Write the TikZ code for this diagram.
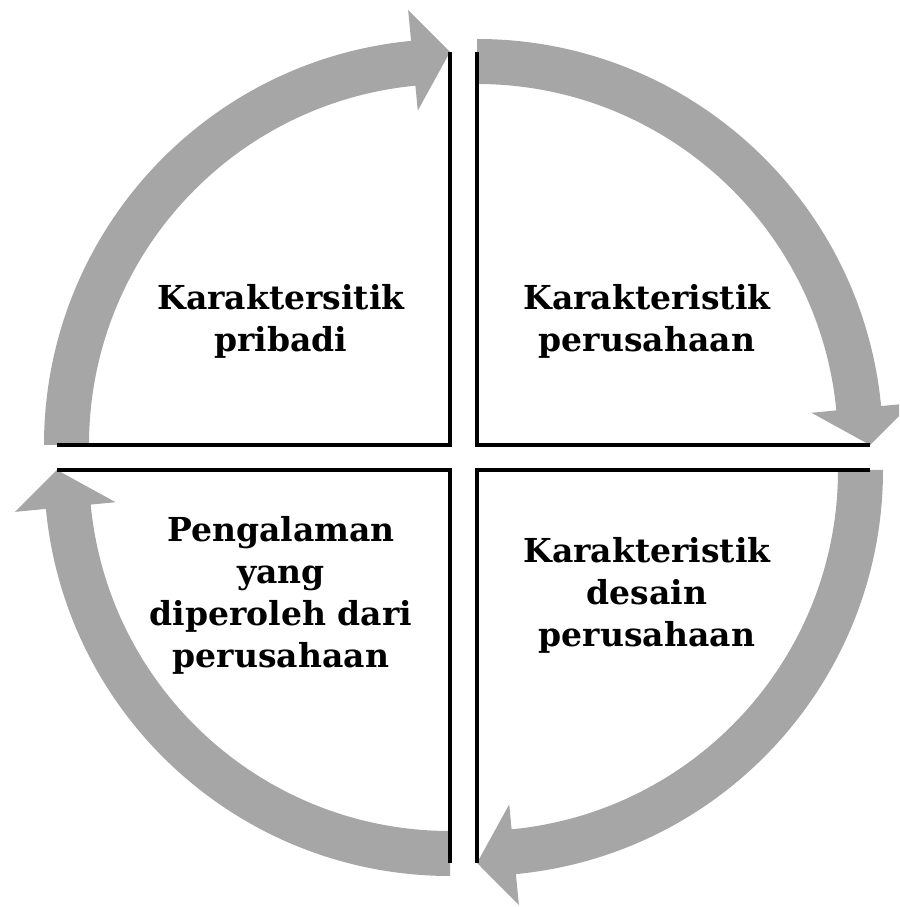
\documentclass[tikz,border=0pt]{standalone}
\usepackage{fontspec}
\setmainfont{DejaVu Serif}
\begin{document}
\begin{tikzpicture}[x=1pt,y=1pt]
\definecolor{bandgray}{RGB}{166,166,166}
\tikzset{
  band/.style={fill=bandgray,draw=none},
  edgeline/.style={line width=3.4pt,black},
  lbl/.style={font=\fontsize{33}{42}\selectfont\bfseries,align=center,text=black,inner sep=0pt}
}
\useasboundingbox (0,0) rectangle (899,907);
\clip (0,0) rectangle (899,907);
% quadrant corners
\coordinate (cTL) at (450,462);
\coordinate (cTR) at (477,462);
\coordinate (cBR) at (477,437);
\coordinate (cBL) at (450,437);
% gray curved arrows
\foreach \cx/\cy/\a in {450/462/180, 477/462/90, 477/437/0, 450/437/-90}{
  \pgfmathsetmacro\e{\a-90+5.5}
  \pgfmathsetmacro\t{\a-90}
  \begin{scope}[shift={(\cx,\cy)}]
    \fill[band] (\a:406pt) arc[start angle=\a, end angle=\e, radius=406pt]
      -- (\e:437pt) -- (\t:393pt) -- (\e:336pt) -- (\e:361pt)
      arc[start angle=\e, end angle=\a, radius=361pt] -- cycle;
  \end{scope}
}
% quadrant edges
\coordinate (tlU) at (450,855);
\coordinate (tlL) at (57,462);
\coordinate (trU) at (477,855);
\coordinate (trR) at (870,462);
\coordinate (brR) at (870,437);
\coordinate (brD) at (477,44);
\coordinate (blD) at (450,44);
\coordinate (blL) at (57,437);
\draw[edgeline] (tlU) -- (cTL) -- (tlL);
\draw[edgeline] (trU) -- (cTR) -- (trR);
\draw[edgeline] (brR) -- (cBR) -- (brD);
\draw[edgeline] (blD) -- (cBL) -- (blL);
% labels
\node[lbl] (tl) at (281,586) {Karaktersitik\\pribadi};
\node[lbl] (tr) at (647,586) {Karakteristik\\perusahaan};
\node[lbl] (br) at (647,312) {Karakteristik\\desain\\perusahaan};
\node[lbl] (bl) at (281,312) {Pengalaman\\yang\\diperoleh dari\\perusahaan};
\end{tikzpicture}
\end{document}
